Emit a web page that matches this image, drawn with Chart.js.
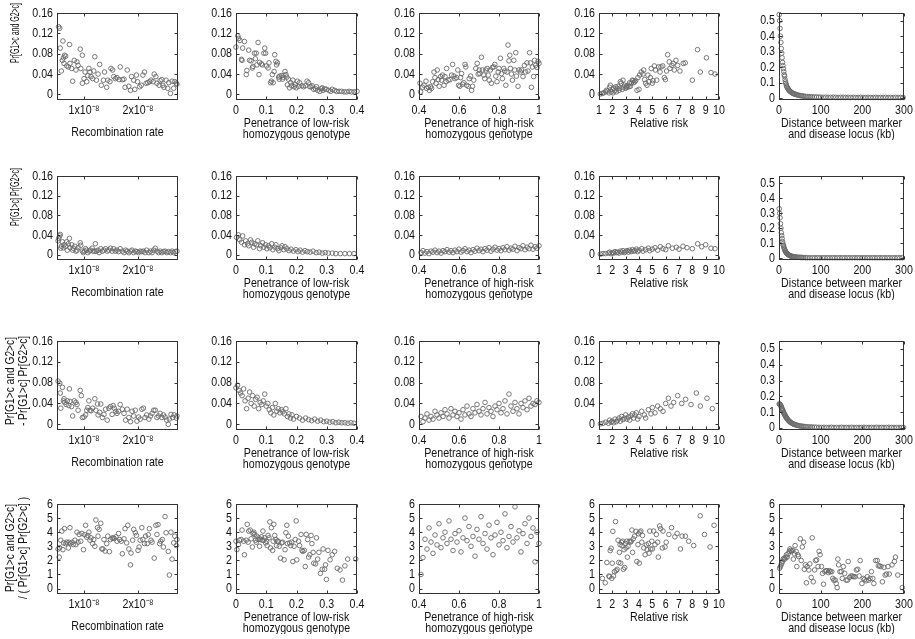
<!DOCTYPE html>
<html><head><meta charset="utf-8">
<script src="https://cdn.jsdelivr.net/npm/chart.js@4.4.1/dist/chart.umd.min.js"></script>
<style>
body{margin:0;background:#fff;width:915px;height:639px;position:relative;overflow:hidden}
canvas{position:absolute}
</style></head><body>
<script>
// ---------------- DATA ----------------
const xTicksRecomb = [1, 2];
const xTicksLow = [0, 0.1, 0.2, 0.3, 0.4];
const xTicksHigh = [0.4, 0.6, 0.8, 1];
const xTicksRR = [1, 2, 3, 4, 5, 6, 7, 8, 9, 10];
const xTicksDist = [0, 100, 200, 300];
const yTicksSmall = [0, 0.04, 0.08, 0.12, 0.16];
const yTicksDist = [0, 0.1, 0.2, 0.3, 0.4, 0.5];
const yTicksRatio = [0, 1, 2, 3, 4, 5, 6];

const xTitles = ['Recombination rate', ['Penetrance of low-risk','homozygous genotype'], ['Penetrance of high-risk','homozygous genotype'], 'Relative risk', ['Distance between marker','and disease locus (kb)']];
const yTitles = [['Pr[G1>c and G2>c]'], ['Pr[G1>c] Pr[G2>c]'], ['Pr[G1>c and G2>c]','- Pr[G1>c] Pr[G2>c]'], ['Pr[G1>c and G2>c]','/ ( Pr[G1>c] Pr[G2>c] )']];

// recombination rate in units of 1e-8
const r1c1 = [[0.53,0.133],[0.55,0.13],[0.56,0.091],[0.58,0.046],[0.6,0.067],[0.61,0.105],[0.62,0.072],[0.63,0.061],[0.64,0.077],[0.66,0.075],[0.68,0.056],[0.71,0.054],[0.73,0.098],[0.74,0.061],[0.77,0.051],[0.79,0.026],[0.82,0.067],[0.85,0.048],[0.87,0.064],[0.89,0.057],[0.93,0.089],[0.94,0.051],[0.97,0.077],[0.97,0.022],[1.0,0.031],[1.02,0.044],[1.05,0.025],[1.07,0.037],[1.09,0.051],[1.11,0.044],[1.13,0.035],[1.16,0.031],[1.18,0.046],[1.2,0.074],[1.23,0.028],[1.26,0.04],[1.29,0.059],[1.32,0.018],[1.36,0.028],[1.38,0.044],[1.42,0.014],[1.44,0.028],[1.48,0.025],[1.5,0.051],[1.53,0.048],[1.55,0.035],[1.58,0.031],[1.61,0.033],[1.65,0.029],[1.67,0.054],[1.71,0.029],[1.74,0.03],[1.76,0.014],[1.8,0.048],[1.83,0.016],[1.86,0.008],[1.88,0.035],[1.92,0.028],[1.94,0.01],[1.97,0.038],[1.99,0.025],[2.03,0.015],[2.06,0.018],[2.09,0.038],[2.12,0.044],[2.15,0.022],[2.18,0.023],[2.21,0.025],[2.24,0.028],[2.28,0.025],[2.3,0.04],[2.33,0.035],[2.35,0.022],[2.39,0.018],[2.41,0.027],[2.44,0.029],[2.46,0.018],[2.48,0.014],[2.52,0.028],[2.55,0.012],[2.57,0.023],[2.6,0.002],[2.63,0.026],[2.66,0.012],[2.68,0.025],[2.71,0.022],[2.72,0.02]];
const r1c2 = [[0,0.093],[0.006,0.115],[0.009,0.11],[0.013,0.106],[0.022,0.091],[0.028,0.104],[0.018,0.069],[0.02,0.067],[0.034,0.039],[0.036,0.047],[0.042,0.087],[0.045,0.067],[0.05,0.066],[0.054,0.052],[0.056,0.055],[0.061,0.081],[0.064,0.07],[0.067,0.081],[0.069,0.058],[0.073,0.102],[0.076,0.039],[0.078,0.063],[0.084,0.06],[0.087,0.058],[0.092,0.081],[0.095,0.091],[0.098,0.081],[0.101,0.056],[0.106,0.052],[0.109,0.062],[0.114,0.023],[0.117,0.026],[0.12,0.039],[0.123,0.023],[0.126,0.045],[0.128,0.078],[0.132,0.065],[0.134,0.058],[0.137,0.062],[0.141,0.034],[0.143,0.03],[0.145,0.036],[0.151,0.037],[0.154,0.03],[0.156,0.034],[0.162,0.045],[0.165,0.039],[0.168,0.034],[0.17,0.019],[0.173,0.03],[0.177,0.013],[0.181,0.023],[0.184,0.017],[0.188,0.028],[0.192,0.015],[0.196,0.019],[0.199,0.013],[0.203,0.026],[0.207,0.016],[0.21,0.023],[0.218,0.017],[0.223,0.015],[0.229,0.017],[0.235,0.026],[0.24,0.023],[0.244,0.015],[0.248,0.015],[0.252,0.017],[0.257,0.01],[0.263,0.011],[0.266,0.015],[0.27,0.008],[0.277,0.006],[0.282,0.011],[0.285,0.013],[0.288,0.008],[0.293,0.011],[0.299,0.01],[0.307,0.008],[0.313,0.006],[0.318,0.01],[0.326,0.008],[0.333,0.006],[0.341,0.006],[0.349,0.006],[0.358,0.005],[0.366,0.005],[0.374,0.006],[0.382,0.005],[0.391,0.005],[0.4,0.006]];
const r1c3 = [[0.405,0.022],[0.408,0.005],[0.418,0.014],[0.425,0.018],[0.435,0.026],[0.438,0.012],[0.447,0.014],[0.452,0.008],[0.458,0.015],[0.463,0.012],[0.468,0.025],[0.475,0.044],[0.48,0.033],[0.485,0.022],[0.491,0.048],[0.496,0.029],[0.501,0.016],[0.508,0.035],[0.513,0.028],[0.518,0.038],[0.525,0.018],[0.53,0.035],[0.535,0.025],[0.538,0.051],[0.546,0.028],[0.555,0.029],[0.563,0.038],[0.568,0.059],[0.575,0.036],[0.58,0.031],[0.588,0.033],[0.594,0.048],[0.598,0.018],[0.604,0.016],[0.608,0.033],[0.613,0.041],[0.618,0.02],[0.624,0.023],[0.63,0.059],[0.634,0.054],[0.638,0.018],[0.646,0.016],[0.651,0.031],[0.658,0.036],[0.663,0.008],[0.668,0.016],[0.674,0.028],[0.684,0.051],[0.691,0.061],[0.696,0.04],[0.701,0.048],[0.704,0.041],[0.712,0.073],[0.717,0.048],[0.724,0.038],[0.729,0.031],[0.734,0.048],[0.741,0.051],[0.746,0.038],[0.751,0.028],[0.757,0.048],[0.762,0.022],[0.767,0.053],[0.774,0.054],[0.779,0.059],[0.784,0.036],[0.79,0.025],[0.796,0.044],[0.8,0.051],[0.807,0.071],[0.812,0.041],[0.817,0.031],[0.824,0.051],[0.829,0.046],[0.834,0.018],[0.84,0.044],[0.845,0.097],[0.85,0.066],[0.854,0.077],[0.857,0.051],[0.862,0.04],[0.867,0.028],[0.874,0.067],[0.879,0.048],[0.884,0.082],[0.887,0.036],[0.895,0.016],[0.9,0.048],[0.907,0.044],[0.912,0.048],[0.92,0.035],[0.927,0.057],[0.933,0.044],[0.94,0.062],[0.945,0.046],[0.953,0.082],[0.957,0.062],[0.962,0.014],[0.967,0.054],[0.973,0.035],[0.978,0.067],[0.983,0.057],[0.99,0.053],[0.995,0.065],[1.0,0.061]];
const r1c4 = [[1.1,0.001],[1.25,0.002],[1.35,0.003],[1.5,0.005],[1.55,0.008],[1.67,0.007],[1.75,0.003],[1.8,0.014],[1.85,0.018],[1.92,0.005],[2.0,0.01],[2.05,0.003],[2.1,0.012],[2.17,0.007],[2.25,0.015],[2.3,0.005],[2.35,0.012],[2.42,0.016],[2.5,0.008],[2.55,0.012],[2.6,0.025],[2.67,0.022],[2.75,0.01],[2.8,0.028],[2.85,0.014],[2.92,0.018],[3.0,0.012],[3.05,0.016],[3.1,0.014],[3.17,0.018],[3.25,0.015],[3.3,0.023],[3.35,0.016],[3.42,0.022],[3.5,0.028],[3.55,0.027],[3.6,0.023],[3.67,0.025],[3.75,0.027],[3.85,0.008],[3.92,0.033],[4.0,0.01],[4.05,0.038],[4.17,0.044],[4.3,0.04],[4.35,0.048],[4.42,0.029],[4.5,0.022],[4.6,0.018],[4.67,0.038],[4.75,0.025],[4.85,0.033],[4.92,0.051],[5.0,0.022],[5.05,0.027],[5.15,0.056],[5.23,0.048],[5.33,0.028],[5.48,0.054],[5.58,0.044],[5.65,0.054],[5.78,0.056],[5.9,0.033],[5.98,0.029],[6.07,0.046],[6.15,0.078],[6.27,0.064],[6.32,0.051],[6.47,0.057],[6.57,0.061],[6.65,0.048],[6.77,0.067],[6.9,0.057],[7.07,0.046],[7.32,0.061],[7.47,0.062],[8.0,0.028],[8.39,0.088],[8.6,0.044],[9.06,0.072],[9.4,0.043],[9.7,0.04]];
const r1c5 = [[0.5,0.54],[1.5,0.5],[2.5,0.45],[3.5,0.4],[4.5,0.36],[5.5,0.32],[6.5,0.29],[7.5,0.26],[8.5,0.23],[9.5,0.21],[10.5,0.19],[11.5,0.17],[12.5,0.15],[13.5,0.14],[14.5,0.12],[15.5,0.105],[16.5,0.095],[17.5,0.085],[18.5,0.075],[19.5,0.07],[21,0.062],[22.5,0.056],[24,0.05],[25.5,0.046],[27,0.042],[29,0.038],[31,0.034],[33,0.03],[35,0.028],[37,0.026],[39,0.024],[42,0.021],[45,0.019],[48,0.017],[51,0.015],[54,0.014],[57,0.013],[60,0.011],[64,0.01],[68,0.009],[72,0.008],[76,0.008],[80,0.007],[85,0.006],[90,0.006],[95,0.005],[100,0.005],[106,0.004],[112,0.005],[118,0.004],[124,0.004],[130,0.005],[136,0.004],[142,0.003],[148,0.004],[154,0.004],[160,0.003],[166,0.004],[172,0.003],[178,0.004],[184,0.003],[190,0.003],[196,0.004],[202,0.003],[208,0.003],[214,0.004],[220,0.003],[226,0.003],[232,0.004],[238,0.003],[244,0.003],[250,0.003],[256,0.004],[262,0.003],[268,0.003],[274,0.003],[280,0.004],[286,0.003],[292,0.003],[298,0.003]];

const r2c1 = [[0.52,0.028],[0.53,0.033],[0.55,0.038],[0.56,0.041],[0.57,0.013],[0.58,0.017],[0.6,0.026],[0.62,0.014],[0.63,0.02],[0.66,0.017],[0.68,0.026],[0.69,0.009],[0.71,0.022],[0.73,0.033],[0.74,0.014],[0.77,0.02],[0.79,0.009],[0.8,0.013],[0.83,0.017],[0.85,0.007],[0.87,0.009],[0.89,0.014],[0.93,0.024],[0.94,0.019],[0.97,0.007],[0.99,0.004],[1.01,0.007],[1.03,0.012],[1.05,0.009],[1.07,0.004],[1.1,0.007],[1.12,0.009],[1.15,0.013],[1.17,0.007],[1.2,0.007],[1.21,0.022],[1.23,0.007],[1.26,0.009],[1.28,0.004],[1.31,0.012],[1.34,0.007],[1.37,0.009],[1.4,0.012],[1.43,0.007],[1.46,0.009],[1.49,0.013],[1.52,0.007],[1.55,0.012],[1.58,0.007],[1.61,0.009],[1.64,0.006],[1.67,0.012],[1.71,0.007],[1.74,0.004],[1.77,0.009],[1.8,0.007],[1.83,0.004],[1.86,0.007],[1.89,0.009],[1.92,0.004],[1.95,0.007],[1.98,0.006],[2.01,0.004],[2.04,0.007],[2.07,0.006],[2.1,0.007],[2.13,0.004],[2.16,0.009],[2.2,0.004],[2.23,0.007],[2.26,0.004],[2.29,0.009],[2.32,0.013],[2.35,0.007],[2.38,0.004],[2.41,0.007],[2.44,0.004],[2.47,0.006],[2.5,0.007],[2.53,0.004],[2.56,0.006],[2.6,0.004],[2.63,0.007],[2.66,0.004],[2.69,0.006],[2.72,0.007]];
const r2c2 = [[0.002,0.035],[0.008,0.04],[0.012,0.03],[0.018,0.025],[0.022,0.038],[0.028,0.02],[0.032,0.028],[0.038,0.022],[0.042,0.018],[0.048,0.03],[0.052,0.025],[0.058,0.015],[0.062,0.022],[0.068,0.02],[0.072,0.028],[0.078,0.012],[0.082,0.018],[0.088,0.024],[0.092,0.015],[0.098,0.02],[0.102,0.012],[0.108,0.018],[0.112,0.014],[0.118,0.022],[0.122,0.01],[0.128,0.015],[0.132,0.02],[0.138,0.012],[0.142,0.008],[0.148,0.014],[0.152,0.018],[0.158,0.01],[0.162,0.016],[0.168,0.012],[0.175,0.008],[0.182,0.011],[0.19,0.007],[0.198,0.01],[0.205,0.006],[0.212,0.009],[0.22,0.005],[0.228,0.008],[0.236,0.006],[0.245,0.005],[0.255,0.007],[0.265,0.004],[0.275,0.005],[0.285,0.003],[0.295,0.004],[0.305,0.003],[0.318,0.003],[0.33,0.002],[0.345,0.002],[0.36,0.002],[0.375,0.002],[0.39,0.002]];
const r2c3 = [[0.41,0.004],[0.42,0.008],[0.43,0.003],[0.44,0.006],[0.45,0.002],[0.46,0.007],[0.47,0.005],[0.48,0.009],[0.49,0.004],[0.5,0.007],[0.51,0.003],[0.52,0.008],[0.53,0.006],[0.54,0.01],[0.55,0.005],[0.56,0.008],[0.57,0.004],[0.58,0.009],[0.59,0.006],[0.6,0.011],[0.61,0.005],[0.62,0.008],[0.63,0.012],[0.64,0.006],[0.65,0.009],[0.66,0.004],[0.67,0.01],[0.68,0.007],[0.69,0.013],[0.7,0.008],[0.71,0.011],[0.72,0.006],[0.73,0.012],[0.74,0.009],[0.75,0.014],[0.76,0.007],[0.77,0.011],[0.78,0.015],[0.79,0.009],[0.8,0.012],[0.81,0.008],[0.82,0.014],[0.83,0.01],[0.84,0.016],[0.85,0.009],[0.86,0.013],[0.87,0.011],[0.88,0.017],[0.89,0.008],[0.9,0.014],[0.91,0.012],[0.92,0.018],[0.93,0.01],[0.94,0.015],[0.95,0.012],[0.96,0.019],[0.97,0.011],[0.98,0.016],[0.99,0.013],[1.0,0.018]];
const r2c4 = [[1.1,0.001],[1.3,0.002],[1.5,0.002],[1.7,0.003],[1.8,0.005],[1.9,0.002],[2.0,0.004],[2.1,0.003],[2.2,0.006],[2.3,0.004],[2.4,0.005],[2.5,0.003],[2.6,0.007],[2.7,0.005],[2.8,0.008],[2.9,0.004],[3.0,0.006],[3.1,0.008],[3.2,0.005],[3.3,0.009],[3.4,0.006],[3.5,0.01],[3.6,0.007],[3.7,0.008],[3.8,0.011],[3.9,0.006],[4.0,0.009],[4.2,0.012],[4.3,0.007],[4.5,0.01],[4.7,0.013],[4.8,0.008],[5.0,0.011],[5.2,0.014],[5.4,0.009],[5.6,0.016],[5.8,0.012],[6.0,0.01],[6.2,0.018],[6.5,0.013],[6.8,0.015],[7.0,0.011],[7.3,0.017],[7.6,0.014],[8.0,0.012],[8.4,0.022],[8.7,0.016],[9.0,0.02],[9.4,0.013],[9.7,0.012]];
const r2c5 = [[0.5,0.33],[1.5,0.3],[2.5,0.27],[3.5,0.23],[4.5,0.2],[5.5,0.17],[6.5,0.15],[7.5,0.13],[8.5,0.11],[9.5,0.095],[10.5,0.085],[11.5,0.075],[12.5,0.065],[13.5,0.058],[14.5,0.05],[15.5,0.045],[16.5,0.04],[17.5,0.036],[18.5,0.032],[19.5,0.029],[21,0.025],[22.5,0.022],[24,0.019],[25.5,0.017],[27,0.015],[29,0.013],[31,0.011],[33,0.01],[35,0.009],[37,0.008],[39,0.007],[42,0.006],[45,0.005],[48,0.005],[51,0.004],[54,0.004],[57,0.003],[60,0.003],[64,0.003],[68,0.002],[74,0.002],[80,0.002],[86,0.002],[92,0.002],[98,0.002],[104,0.002],[110,0.002],[116,0.002],[122,0.002],[128,0.002],[134,0.002],[140,0.002],[146,0.002],[152,0.002],[158,0.002],[164,0.002],[170,0.002],[176,0.002],[182,0.002],[188,0.002],[194,0.002],[200,0.002],[206,0.002],[212,0.002],[218,0.002],[224,0.002],[230,0.002],[236,0.002],[242,0.002],[248,0.002],[254,0.002],[260,0.002],[266,0.002],[272,0.002],[278,0.002],[284,0.002],[290,0.002],[296,0.002]];

const r3c1 = [[0.52,0.083],[0.55,0.079],[0.56,0.06],[0.57,0.031],[0.6,0.071],[0.62,0.045],[0.63,0.049],[0.64,0.042],[0.67,0.038],[0.69,0.045],[0.72,0.036],[0.73,0.068],[0.74,0.044],[0.77,0.034],[0.79,0.016],[0.82,0.045],[0.85,0.042],[0.87,0.038],[0.89,0.027],[0.93,0.065],[0.95,0.055],[0.97,0.013],[1.0,0.014],[1.03,0.018],[1.05,0.027],[1.07,0.032],[1.09,0.045],[1.11,0.027],[1.13,0.026],[1.16,0.031],[1.2,0.049],[1.22,0.027],[1.25,0.039],[1.26,0.018],[1.29,0.023],[1.31,0.039],[1.34,0.013],[1.37,0.019],[1.4,0.029],[1.43,0.008],[1.46,0.031],[1.49,0.034],[1.52,0.019],[1.54,0.036],[1.56,0.031],[1.59,0.025],[1.61,0.021],[1.64,0.025],[1.67,0.038],[1.71,0.029],[1.74,0.021],[1.77,0.008],[1.8,0.029],[1.83,0.013],[1.86,0.005],[1.89,0.025],[1.92,0.016],[1.95,0.027],[1.98,0.006],[2.01,0.014],[2.04,0.01],[2.07,0.029],[2.1,0.031],[2.13,0.013],[2.16,0.018],[2.2,0.01],[2.23,0.016],[2.26,0.021],[2.29,0.027],[2.32,0.027],[2.35,0.013],[2.38,0.016],[2.41,0.021],[2.44,0.013],[2.47,0.018],[2.5,0.014],[2.53,0.008],[2.56,0.0],[2.58,0.01],[2.61,0.019],[2.64,0.013],[2.67,0.018],[2.71,0.012],[2.72,0.016]];
const r3c2 = [[0,0.07],[0.005,0.075],[0.01,0.065],[0.015,0.06],[0.02,0.055],[0.025,0.068],[0.03,0.045],[0.035,0.03],[0.04,0.05],[0.045,0.062],[0.05,0.04],[0.055,0.055],[0.06,0.035],[0.065,0.048],[0.07,0.052],[0.075,0.03],[0.08,0.042],[0.085,0.038],[0.09,0.045],[0.095,0.058],[0.1,0.035],[0.105,0.04],[0.11,0.028],[0.115,0.022],[0.12,0.032],[0.125,0.018],[0.13,0.04],[0.135,0.025],[0.14,0.03],[0.145,0.022],[0.15,0.028],[0.155,0.024],[0.16,0.02],[0.165,0.03],[0.17,0.015],[0.175,0.02],[0.18,0.012],[0.185,0.018],[0.19,0.01],[0.2,0.015],[0.21,0.012],[0.22,0.008],[0.23,0.012],[0.24,0.009],[0.25,0.007],[0.26,0.01],[0.27,0.006],[0.28,0.008],[0.29,0.005],[0.3,0.006],[0.31,0.004],[0.32,0.005],[0.33,0.003],[0.34,0.004],[0.35,0.003],[0.36,0.003],[0.37,0.002],[0.38,0.003],[0.39,0.002]];
const r3c3 = [[0.41,0.015],[0.42,0.005],[0.43,0.012],[0.44,0.02],[0.45,0.008],[0.46,0.015],[0.47,0.01],[0.48,0.025],[0.49,0.018],[0.5,0.012],[0.51,0.022],[0.52,0.015],[0.53,0.028],[0.54,0.02],[0.55,0.012],[0.56,0.03],[0.57,0.018],[0.58,0.025],[0.59,0.015],[0.6,0.022],[0.61,0.01],[0.62,0.028],[0.63,0.018],[0.64,0.035],[0.65,0.02],[0.66,0.015],[0.67,0.03],[0.68,0.022],[0.69,0.038],[0.7,0.025],[0.71,0.018],[0.72,0.03],[0.73,0.042],[0.74,0.02],[0.75,0.032],[0.76,0.025],[0.77,0.015],[0.78,0.035],[0.79,0.028],[0.8,0.04],[0.81,0.022],[0.82,0.03],[0.83,0.045],[0.84,0.02],[0.85,0.058],[0.86,0.035],[0.87,0.025],[0.88,0.042],[0.89,0.03],[0.9,0.02],[0.91,0.04],[0.92,0.032],[0.93,0.045],[0.94,0.028],[0.95,0.05],[0.96,0.035],[0.97,0.04],[0.98,0.038],[0.99,0.045],[1.0,0.042]];
const r3c4 = [[1.1,0.001],[1.3,0.002],[1.5,0.004],[1.7,0.002],[1.8,0.008],[1.9,0.004],[2.0,0.006],[2.1,0.003],[2.2,0.01],[2.3,0.005],[2.4,0.008],[2.5,0.012],[2.6,0.006],[2.7,0.015],[2.8,0.009],[2.9,0.012],[3.0,0.018],[3.1,0.01],[3.2,0.014],[3.3,0.008],[3.4,0.016],[3.5,0.02],[3.6,0.012],[3.7,0.018],[3.8,0.022],[3.9,0.01],[4.0,0.015],[4.2,0.025],[4.4,0.018],[4.5,0.012],[4.7,0.028],[4.9,0.02],[5.0,0.032],[5.2,0.022],[5.4,0.035],[5.6,0.03],[5.8,0.025],[6.0,0.04],[6.2,0.05],[6.4,0.035],[6.6,0.042],[6.9,0.055],[7.2,0.04],[7.5,0.048],[7.9,0.038],[8.3,0.06],[8.6,0.035],[9.1,0.05],[9.5,0.03]];
const r3c5 = [[0.5,0.152],[1.5,0.15],[2.5,0.148],[3.5,0.145],[4.5,0.14],[5.5,0.135],[6.5,0.125],[7.5,0.12],[8.5,0.115],[9.5,0.108],[10.5,0.1],[11.5,0.095],[12.5,0.09],[13.5,0.085],[14.5,0.08],[15.5,0.075],[16.5,0.07],[17.5,0.066],[18.5,0.062],[19.5,0.058],[21,0.052],[22.5,0.048],[24,0.044],[25.5,0.04],[27,0.037],[29,0.033],[31,0.03],[33,0.027],[35,0.024],[37,0.022],[39,0.02],[42,0.018],[45,0.016],[48,0.014],[51,0.012],[54,0.011],[57,0.01],[60,0.009],[64,0.008],[68,0.007],[72,0.006],[76,0.006],[80,0.005],[85,0.005],[90,0.004],[96,0.004],[102,0.003],[108,0.004],[114,0.003],[120,0.003],[126,0.004],[132,0.003],[138,0.003],[144,0.003],[150,0.004],[156,0.003],[162,0.003],[168,0.003],[174,0.004],[180,0.003],[186,0.003],[192,0.003],[198,0.003],[204,0.004],[210,0.003],[216,0.003],[222,0.003],[228,0.003],[234,0.004],[240,0.003],[246,0.003],[252,0.003],[258,0.003],[264,0.004],[270,0.003],[276,0.003],[282,0.003],[288,0.003],[294,0.003],[299,0.003]];

const r4c1 = [[0.52,2.8],[0.54,2.23],[0.55,2.9],[0.57,3.43],[0.59,4.08],[0.61,2.76],[0.62,3.24],[0.64,4.25],[0.66,3.19],[0.68,3.29],[0.71,2.88],[0.72,3.29],[0.74,4.32],[0.75,3.19],[0.78,3.29],[0.8,3.12],[0.83,3.43],[0.85,3.12],[0.87,4.0],[0.89,3.29],[0.91,3.84],[0.94,3.36],[0.96,3.91],[0.99,2.76],[1.01,3.82],[1.03,4.49],[1.05,3.65],[1.07,3.77],[1.09,4.0],[1.11,3.43],[1.13,3.6],[1.16,3.19],[1.18,3.48],[1.2,3.0],[1.22,4.87],[1.25,4.32],[1.26,3.72],[1.28,4.2],[1.31,4.63],[1.33,2.81],[1.35,2.81],[1.37,3.48],[1.39,2.66],[1.42,3.19],[1.44,3.72],[1.47,2.62],[1.49,3.48],[1.52,3.58],[1.54,3.6],[1.56,3.55],[1.59,3.67],[1.61,3.36],[1.64,3.91],[1.66,3.48],[1.69,3.36],[1.71,2.47],[1.74,3.53],[1.76,4.25],[1.79,3.24],[1.81,4.49],[1.83,2.81],[1.86,1.68],[1.87,2.52],[1.9,3.43],[1.92,4.2],[1.95,3.96],[1.97,3.77],[2.0,2.71],[2.02,2.95],[2.04,3.43],[2.07,4.32],[2.09,3.48],[2.12,3.19],[2.14,3.72],[2.17,3.19],[2.19,3.82],[2.21,4.25],[2.24,3.43],[2.26,3.29],[2.3,2.16],[2.33,4.49],[2.35,3.84],[2.37,4.54],[2.4,3.19],[2.42,3.36],[2.45,3.48],[2.47,2.95],[2.5,5.11],[2.52,3.96],[2.56,2.64],[2.58,0.96],[2.61,4.0],[2.63,2.09],[2.66,3.24],[2.68,3.72],[2.71,3.05],[2.72,3.48]];
const r4c2 = [[0,3.36],[0.003,2.76],[0.008,3.12],[0.011,3.43],[0.017,3.48],[0.02,4.15],[0.025,3.36],[0.028,2.4],[0.034,3.43],[0.037,4.56],[0.04,3.29],[0.042,4.08],[0.047,4.15],[0.05,3.53],[0.054,2.95],[0.056,3.91],[0.059,4.0],[0.061,3.84],[0.065,3.43],[0.067,3.29],[0.069,3.72],[0.073,3.48],[0.076,3.6],[0.078,3.0],[0.08,3.48],[0.084,3.67],[0.087,3.43],[0.089,4.08],[0.092,3.43],[0.095,3.6],[0.098,3.24],[0.101,3.36],[0.103,3.05],[0.106,3.77],[0.109,3.6],[0.112,4.73],[0.114,2.88],[0.117,4.32],[0.121,2.71],[0.123,3.36],[0.125,4.56],[0.128,3.77],[0.132,3.48],[0.134,3.05],[0.136,3.36],[0.14,3.36],[0.143,3.0],[0.147,2.16],[0.151,3.24],[0.154,3.29],[0.159,2.04],[0.162,2.76],[0.165,3.96],[0.168,4.49],[0.17,3.19],[0.173,3.72],[0.177,3.24],[0.181,3.05],[0.184,3.29],[0.188,1.92],[0.192,3.0],[0.196,3.48],[0.199,4.8],[0.201,2.04],[0.207,3.36],[0.21,3.05],[0.215,3.84],[0.218,2.71],[0.221,2.64],[0.226,2.71],[0.229,1.56],[0.232,3.84],[0.237,3.48],[0.24,2.23],[0.244,2.4],[0.248,3.77],[0.251,3.19],[0.255,2.57],[0.257,1.8],[0.263,1.75],[0.266,3.6],[0.27,2.09],[0.274,2.57],[0.279,1.08],[0.285,1.37],[0.288,2.81],[0.293,1.37],[0.296,1.68],[0.299,0.65],[0.304,2.71],[0.311,2.04],[0.318,2.4],[0.326,2.64],[0.335,1.44],[0.344,1.32],[0.352,0.6],[0.36,1.61],[0.369,2.09],[0.396,2.1]];
const r4c3 = [[0.41,1.0],[0.42,2.2],[0.43,3.5],[0.44,2.8],[0.45,4.3],[0.46,3.3],[0.47,2.5],[0.48,3.8],[0.49,3.1],[0.5,4.6],[0.51,2.9],[0.52,3.6],[0.53,4.0],[0.54,3.2],[0.55,4.8],[0.56,3.5],[0.57,2.7],[0.58,3.9],[0.59,3.3],[0.6,4.1],[0.61,2.6],[0.62,3.6],[0.63,5.0],[0.64,3.4],[0.65,4.4],[0.66,3.0],[0.67,3.7],[0.68,2.3],[0.69,4.2],[0.7,3.5],[0.71,5.1],[0.72,3.2],[0.73,3.9],[0.74,2.8],[0.75,4.5],[0.76,3.6],[0.77,2.4],[0.78,3.8],[0.79,4.7],[0.8,3.1],[0.81,4.0],[0.82,3.4],[0.83,5.3],[0.84,2.9],[0.85,3.7],[0.86,4.4],[0.87,3.3],[0.88,5.8],[0.89,3.6],[0.9,4.1],[0.91,2.6],[0.92,3.9],[0.93,4.6],[0.94,3.2],[0.95,5.0],[0.96,3.7],[0.97,4.3],[0.98,1.9],[0.99,4.0],[1.0,3.2]];
const r4c4 = [[1.25,0.72],[1.47,0.41],[1.59,1.85],[1.74,0.89],[1.79,0.84],[1.84,2.69],[1.91,2.86],[1.96,0.72],[1.99,1.8],[2.04,4.06],[2.09,0.89],[2.16,1.2],[2.24,4.75],[2.29,1.27],[2.36,1.37],[2.43,3.43],[2.48,1.85],[2.53,2.57],[2.58,3.12],[2.63,1.8],[2.68,3.29],[2.73,3.05],[2.78,3.36],[2.83,1.37],[2.88,2.76],[2.93,1.49],[2.98,3.19],[3.03,2.88],[3.08,3.36],[3.13,2.23],[3.18,3.0],[3.27,3.36],[3.35,3.29],[3.42,3.36],[3.47,4.15],[3.52,2.57],[3.57,3.53],[3.67,3.72],[3.77,4.06],[3.84,1.92],[3.92,3.12],[3.97,3.89],[4.02,1.8],[4.07,4.0],[4.14,4.08],[4.21,3.29],[4.26,3.77],[4.36,2.88],[4.46,2.4],[4.56,3.1],[4.61,2.76],[4.71,3.19],[4.76,2.52],[4.81,4.08],[4.88,2.81],[4.96,3.36],[5.01,2.81],[5.1,4.08],[5.2,3.12],[5.3,3.84],[5.4,3.29],[5.45,2.23],[5.55,4.44],[5.62,4.25],[5.75,2.88],[5.8,4.08],[5.95,2.95],[6.04,3.29],[6.24,3.84],[6.44,4.32],[6.69,3.67],[6.86,3.91],[7.11,2.81],[7.23,3.72],[7.48,3.72],[7.73,3.36],[8.1,3.05],[8.59,5.16],[8.91,3.84],[9.33,2.95],[9.63,4.49]];
const r4c5 = [[1.6,1.44],[3.3,1.56],[4.9,1.68],[6.6,1.8],[8.2,1.92],[9.9,2.09],[12.3,2.16],[14,2.09],[16.4,2.23],[18,2.4],[19.7,2.23],[22,2.47],[24.7,2.64],[26.3,2.81],[28,2.71],[30.4,2.64],[32.9,2.71],[34.5,2.09],[37,2.47],[38.6,3.05],[41.1,2.64],[42.7,1.56],[45.2,2.4],[46.8,2.28],[51,3.53],[53.4,1.99],[55.9,2.95],[59.2,3.29],[60.8,1.37],[63.3,1.68],[65.8,0.41],[67.4,1.56],[71.5,1.32],[74,1.75],[77.3,0.79],[79.7,3.6],[82.2,0.48],[85.5,1.32],[87.9,1.99],[90.4,2.04],[93.7,1.56],[96.2,2.64],[98.6,2.4],[101.9,1.56],[104.4,1.08],[106.8,0.31],[110.1,1.2],[112.6,1.27],[115,1.27],[118.4,1.13],[120.8,1.27],[123.3,1.2],[126.6,1.2],[129,0.72],[131.5,0.6],[134.8,0.6],[137.2,0.36],[139.7,0.07],[141.3,2.09],[143,1.68],[146.2,1.2],[149.5,1.2],[151.9,0.72],[154.4,1.56],[157.7,1.08],[161,0.6],[164.4,0.6],[166,1.92],[169.3,0.79],[172.6,0.89],[175.9,0.89],[179.1,0.84],[182.5,0.84],[185.8,1.32],[189,1.37],[192.3,0.89],[194.8,1.99],[198.9,0.36],[202.2,0.72],[205.5,0.65],[208.8,0.55],[212,0.84],[215.3,0.6],[218.6,0.72],[221.9,1.2],[225.2,0.72],[227.6,0.36],[231.8,1.99],[235.8,1.99],[238.4,1.61],[241.6,1.61],[244.8,1.56],[248.2,0.48],[252.2,1.51],[254.8,0.96],[258,1.03],[261.4,1.56],[264.6,1.03],[271.2,1.68],[277,1.92],[279.5,2.23],[285.1,0.96],[295.9,0.07]];

const panels = [[r1c1,r1c2,r1c3,r1c4,r1c5],[r2c1,r2c2,r2c3,r2c4,r2c5],[r3c1,r3c2,r3c3,r3c4,r3c5],[r4c1,r4c2,r4c3,r4c4,r4c5]];

// ---------------- LAYOUT / STYLE ----------------
const FAMILY = "'Liberation Sans', Arial, sans-serif";
const FS = 13, SX = 0.82;           // Arial-narrow look: regular face, compressed horizontally
const TXT = '#111', BOX = '#333', PT = '#6a6a6a';
const COLS = [{l:57,r:178},{l:236,r:357},{l:419,r:539},{l:599,r:719},{l:779,r:904}];
const ROWS = [{t:13,b:99},{t:176,b:259},{t:341,b:429},{t:504,b:593}];
const TP = 10, RP = 16;
const TITLE_LH = 11;
const XCFG = [
  {min:0.5, max:2.74, ticks:xTicksRecomb, fmt:v=>v+'x10\u207B\u2078', off:33},
  {min:0, max:0.4, ticks:xTicksLow, fmt:v=>String(v), off:24},
  {min:0.4, max:1, ticks:xTicksHigh, fmt:v=>String(v), off:24},
  {min:1, max:10, ticks:xTicksRR, fmt:v=>String(v), off:24},
  {min:0, max:300, ticks:xTicksDist, fmt:v=>String(v), off:24}
];
function ycfg(r,c){
  if (r === 3) return {min:-0.35, max:6, ticks:yTicksRatio};
  if (c === 4) return {min:-0.01, max:0.55, ticks:yTicksDist};
  return {min:-0.01, max:0.16, ticks:yTicksSmall};
}
// y-title placement (centre along axis, line x positions, drawn length of first line)
const YT_CENTER = [33, 197, 381, 548];
const YT_X = [[15.5],[15.5],[10,23],[10,23]];
const YT_LEN = [60, 58, 88, 88];

function narrowText(ctx){
  if (ctx.__narrow) return;
  const orig = ctx.fillText;
  ctx.fillText = function(t, x, y){
    this.save(); this.translate(x, y); this.scale(SX, 1); orig.call(this, t, 0, 0); this.restore();
  };
  ctx.__narrow = true;
}
const narrowPlugin = { id:'narrow', beforeDraw(chart){ narrowText(chart.ctx); } };

const boxPlugin = {
  id:'box',
  afterDraw(chart){
    const {ctx, chartArea:a, scales:{x,y}} = chart;
    ctx.save();
    ctx.strokeStyle = BOX; ctx.lineWidth = 1;
    const L = Math.round(a.left)+0.5, R = Math.round(a.right)-0.5, T = Math.round(a.top)+0.5, B = Math.round(a.bottom)-0.5;
    ctx.strokeRect(L, T, R-L, B-T);
    ctx.beginPath();
    const tl = 3;
    x.ticks.forEach(t=>{ const px = Math.round(x.getPixelForValue(t.value))+0.5; ctx.moveTo(px,B); ctx.lineTo(px,B-tl); ctx.moveTo(px,T); ctx.lineTo(px,T+tl); });
    y.ticks.forEach(t=>{ const py = Math.round(y.getPixelForValue(t.value))+0.5; ctx.moveTo(L,py); ctx.lineTo(L+tl,py); ctx.moveTo(R,py); ctx.lineTo(R-tl,py); });
    ctx.stroke();
    ctx.restore();
  }
};

for (let r = 0; r < 4; r++) {
  for (let c = 0; c < 5; c++) {
    const col = COLS[c], row = ROWS[r], xc = XCFG[c], yc = ycfg(r,c);
    const title = xTitles[c];
    const nLines = Array.isArray(title) ? title.length : 1;
    const XH = xc.off + TITLE_LH*(nLines-1) + TITLE_LH/2;
    const YW = c === 0 ? col.l : 40;
    const left = col.l - YW, top = row.t - TP;
    const W = Math.round(YW + (col.r - col.l) + RP), H = Math.round(TP + (row.b - row.t) + XH);
    const cv = document.createElement('canvas');
    cv.width = W; cv.height = H;
    cv.style.left = left + 'px'; cv.style.top = top + 'px';
    cv.style.width = W + 'px'; cv.style.height = H + 'px';
    document.body.appendChild(cv);
    const font = {family: FAMILY, size: FS};
    new Chart(cv, {
      type:'scatter',
      data:{datasets:[{
        data: panels[r][c].map(p=>({x:p[0], y:p[1]})),
        pointRadius:2.3, pointBorderWidth:0.9, pointBorderColor:PT,
        pointBackgroundColor:'rgba(0,0,0,0)', pointHoverRadius:2.3, showLine:false, clip:4
      }]},
      options:{
        responsive:false, animation:false, devicePixelRatio:1, events:[],
        layout:{padding:{top:TP, right:W - YW - (col.r-col.l), left:0, bottom:0}},
        plugins:{legend:{display:false}, tooltip:{enabled:false}},
        scales:{
          x:{type:'linear', position:'bottom', min:xc.min, max:xc.max,
             grid:{display:false, drawTicks:false}, border:{display:false},
             afterBuildTicks: s=>{ s.ticks = xc.ticks.map(v=>({value:v})); },
             ticks:{callback: v=>xc.fmt(v), font, color:TXT, padding:3, maxRotation:0, minRotation:0, autoSkip:false},
             title:{display:true, text:title, font:{family:FAMILY, size:FS, lineHeight:TITLE_LH/FS}, color:TXT, padding:{top:0,bottom:0}},
             afterFit: s=>{ s.height = XH; s.paddingLeft = 0; s.paddingRight = 0; }
          },
          y:{type:'linear', position:'left', min:yc.min, max:yc.max,
             grid:{display:false, drawTicks:false}, border:{display:false},
             afterBuildTicks: s=>{ s.ticks = yc.ticks.map(v=>({value:v})); },
             ticks:{callback: v=>String(v), font, color:TXT, padding:4, autoSkip:false},
             title:{display:false},
             afterFit: s=>{ s.width = YW; s.paddingTop = 0; s.paddingBottom = 0; }
          }
        }
      },
      plugins:[narrowPlugin, boxPlugin]
    });
  }
}

// y-axis titles of the first column (rotated text)
const tc = document.createElement('canvas');
tc.width = 34; tc.height = 639; tc.style.left = '0px'; tc.style.top = '0px';
document.body.appendChild(tc);
const tx = tc.getContext('2d');
tx.fillStyle = TXT; tx.font = FS + 'px ' + FAMILY; tx.textAlign = 'center'; tx.textBaseline = 'middle';
for (let r = 0; r < 4; r++) {
  const s = YT_LEN[r] / tx.measureText(yTitles[r][0]).width;
  yTitles[r].forEach((line, i) => {
    tx.save(); tx.translate(YT_X[r][i], YT_CENTER[r]); tx.rotate(-Math.PI/2); tx.scale(s, 1);
    tx.fillText(line, 0, 0); tx.restore();
  });
}
</script>
</body></html>
